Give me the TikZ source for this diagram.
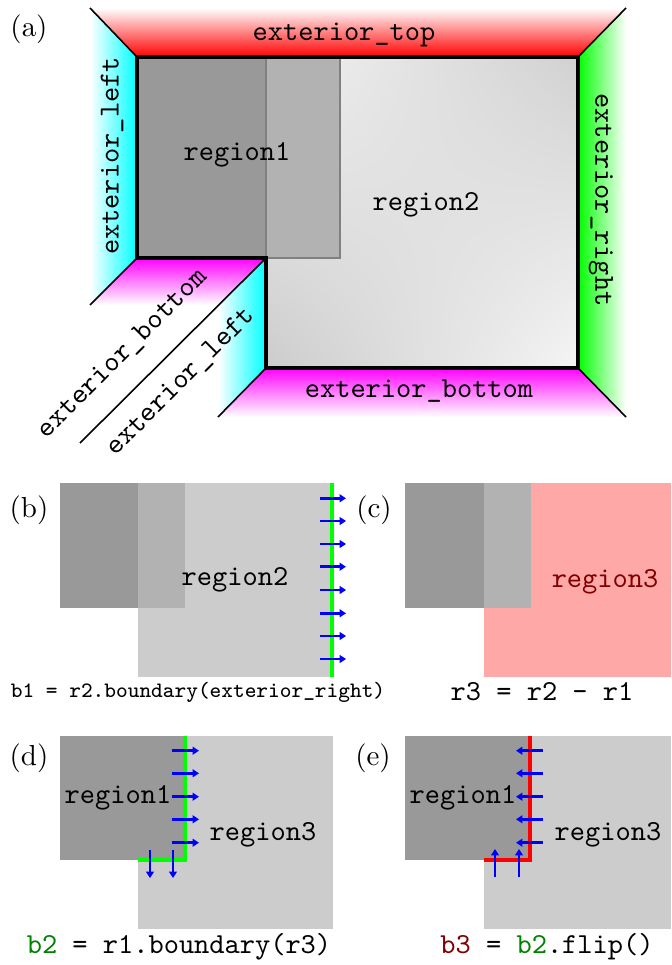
\documentclass[tikz,border=0pt]{standalone}
\usetikzlibrary{arrows.meta,shadings}
\definecolor{txtgreen}{rgb}{0,0.5,0}
\definecolor{txtred}{rgb}{0.5,0,0}
\definecolor{pinkfill}{rgb}{1,0.66,0.66}
\begin{document}
\begin{tikzpicture}[x=0.345pt,y=-0.345pt,
  lbl/.style={font=\ttfamily, inner sep=0pt},
  tag/.style={inner sep=0pt},
  capline/.style={font=\ttfamily, inner sep=0pt},
  smallcapline/.style={font=\ttfamily\fontsize{7.6}{9}\selectfont, inner sep=0pt},
  outline/.style={line width=1.2pt, line join=miter},
  diag/.style={line width=0.55pt},
  bdry/.style={line width=1.15pt},
  arr/.style={blue, line width=0.9pt, -{Triangle[length=2.2pt,width=2.7pt]}},
  rone/.style={fill=black!40},
  rover/.style={fill=black!30},
  rlight/.style={fill=black!20}]
\useasboundingbox (0,0) rectangle (671,965);

% ---------- panel (a) ----------
\node[tag] (ta) at (29,29) {(a)};
% exterior bands
\shade[top color=white, bottom color=red] (90,8) -- (626,8) -- (578,57) -- (137,57) -- cycle;
\shade[left color=white, right color=cyan] (90,8) -- (137,57) -- (137,258) -- (90,305) -- cycle;
\shade[left color=green, right color=white] (578,57) -- (626,8) -- (626,417) -- (578,368) -- cycle;
\shade[top color=magenta, bottom color=white] (137,258) -- (266,258) -- (219,305) -- (90,305) -- cycle;
\shade[left color=white, right color=cyan] (266,258) -- (218,306) -- (218,417) -- (266,368) -- cycle;
\shade[top color=magenta, bottom color=white] (266,368) -- (578,368) -- (626,417) -- (218,417) -- cycle;
% regions
\shade[upper left=black!5, upper right=black!18, lower left=black!20, lower right=black!4] (266,57) rectangle (578,368);
\fill[rone] (137,57) rectangle (266,258);
\fill[rover] (266,57) rectangle (340,258);
\draw[black!50, line width=0.4pt] (266,57) -- (266,258) -- (340,258) -- (340,57);
% outline
\draw[outline] (137,57) -- (578,57) -- (578,368) -- (266,368) -- (266,258) -- (137,258) -- cycle;
% diagonals
\draw[diag] (90,8) -- (137,57);
\draw[diag] (626,8) -- (578,57);
\draw[diag] (626,417) -- (578,368);
\draw[diag] (137,258) -- (90,305);
\draw[diag] (266,368) -- (218,417);
\draw[diag] (266,258) -- (80,443);
% labels
\node[lbl] (etop) at (344,35) {exterior\_top};
\node[lbl, rotate=90] (eleft) at (112,156) {exterior\_left};
\node[lbl, rotate=-90] (eright) at (601,200) {exterior\_right};
\node[lbl] (ebot) at (419,391) {exterior\_bottom};
\node[lbl, rotate=45] (ebot2) at (123,354) {exterior\_bottom};
\node[lbl, rotate=45] (eleft2) at (181,382) {exterior\_left};
\node[lbl] (reg1a) at (237,155) {region1};
\node[lbl] (reg2a) at (426,205) {region2};

% ---------- panel (b) ----------
\node[tag] (tb) at (29,510) {(b)};
\fill[rlight] (138,483) rectangle (332,677);
\fill[rone] (60,483) rectangle (138,608);
\fill[rover] (138,483) rectangle (185,608);
\draw[green, bdry] (332,483) -- (332,677);
\foreach \yy in {498.3,521,544,566.7,590,613.3,636,659}
  \draw[arr] (320,\yy) -- (346,\yy);
\node[lbl] (reg2b) at (235,580) {region2};
\node[smallcapline] (capb) at (198,692) {b1 = r2.boundary(exterior\_right)};

% ---------- panel (c) ----------
\node[tag] (tc) at (374,510) {(c)};
\fill[pinkfill] (484,483) rectangle (671,677);
\fill[rone] (405,483) rectangle (484,608);
\fill[rover] (484,483) rectangle (531,608);
\node[lbl, text=txtred] (reg3c) at (605,582) {region3};
\node[capline] (capc) at (542,692) {r3 = r2 - r1};

% ---------- panel (d) ----------
\node[tag] (td) at (29,758) {(d)};
\fill[rlight] (138,736) rectangle (333,929);
\fill[rone] (60,736) rectangle (185,860);
\draw[green, bdry] (185,736) -- (185,860) -- (138,860);
\foreach \yy in {750.7,773.3,796.7,819.3,842.7}
  \draw[arr] (172,\yy) -- (199,\yy);
\foreach \xx in {150,173}
  \draw[arr] (\xx,850) -- (\xx,878);
\node[lbl] (reg1d) at (118,798) {region1};
\node[lbl] (reg3d) at (263,835) {region3};
\node[capline] (capd) at (179,947) {\textcolor{txtgreen}{b2} = r1.boundary(r3)};

% ---------- panel (e) ----------
\node[tag] (te) at (373,758) {(e)};
\fill[rlight] (484,736) rectangle (671,929);
\fill[rone] (405,736) rectangle (530,860);
\draw[red, bdry] (530,736) -- (530,860) -- (484,860);
\foreach \yy in {750.7,773.3,796.7,819.3,842.7}
  \draw[arr] (543,\yy) -- (516,\yy);
\foreach \xx in {495,519}
  \draw[arr] (\xx,877) -- (\xx,849);
\node[lbl] (reg1e) at (463,798) {region1};
\node[lbl] (reg3e) at (608,835) {region3};
\node[capline] (cape) at (547,947) {\textcolor{txtred}{b3} = \textcolor{txtgreen}{b2}.flip()};
\end{tikzpicture}
\end{document}
